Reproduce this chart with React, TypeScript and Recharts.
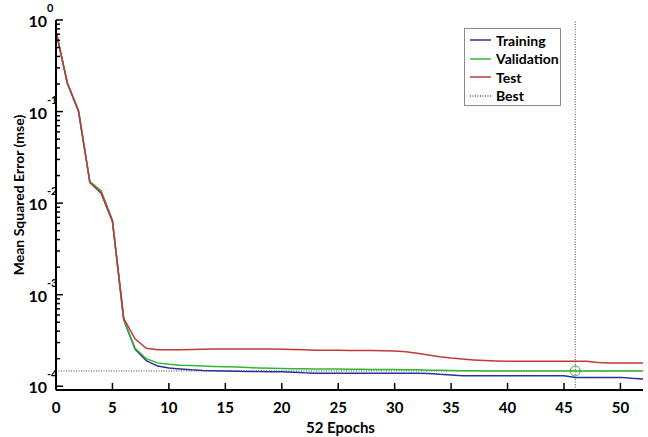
import React from "react";
import {
  LineChart,
  Line,
  XAxis,
  YAxis,
  ReferenceLine,
  ReferenceDot,
} from "recharts";

const epochs: number[] = Array.from({ length: 53 }, (_, i) => i);

const training: number[] = [
  0.75, 0.205, 0.1, 0.0168, 0.0128, 0.0063, 0.00053, 0.000255, 0.00019, 0.000166,
  0.000158, 0.000154, 0.000151, 0.000149, 0.000148, 0.000147, 0.000146, 0.000145, 0.000145, 0.000144,
  0.000144, 0.000142, 0.00014, 0.000139, 0.000139, 0.000139, 0.000139, 0.000139, 0.000139, 0.000139,
  0.000139, 0.000139, 0.000139, 0.000138, 0.000135, 0.000133, 0.00013, 0.00013, 0.00013, 0.00013,
  0.00013, 0.00013, 0.00013, 0.00013, 0.00013, 0.00013, 0.000125, 0.000125, 0.000125, 0.000125,
  0.000125, 0.000122, 0.00012,
];

const validation: number[] = [
  0.755, 0.206, 0.101, 0.0172, 0.0137, 0.0065, 0.00054, 0.00026, 0.0002, 0.00018,
  0.000174, 0.00017, 0.000168, 0.000166, 0.000164, 0.000163, 0.000162, 0.00016, 0.000158, 0.000157,
  0.000156, 0.000155, 0.000155, 0.000154, 0.000154, 0.000154, 0.000153, 0.000153, 0.000152, 0.000152,
  0.000152, 0.000151, 0.000151, 0.00015, 0.00015, 0.000149, 0.000148, 0.000148, 0.000147, 0.000147,
  0.000147, 0.000147, 0.000147, 0.000147, 0.000147, 0.000147, 0.000147, 0.000147, 0.000147, 0.000147,
  0.000147, 0.000147, 0.000147,
];

const test: number[] = [
  0.755, 0.206, 0.101, 0.0168, 0.013, 0.0064, 0.00055, 0.00033, 0.00026, 0.000251,
  0.00025, 0.00025, 0.000252, 0.000254, 0.000255, 0.000255, 0.000255, 0.000255, 0.000255, 0.000255,
  0.000254, 0.000252, 0.00025, 0.000248, 0.000247, 0.000247, 0.000246, 0.000245, 0.000245, 0.000244,
  0.000242, 0.000238, 0.000229, 0.00022, 0.00021, 0.000203, 0.000198, 0.000194, 0.000191, 0.000189,
  0.000187, 0.000187, 0.000187, 0.000187, 0.000187, 0.000187, 0.000187, 0.000187, 0.000182, 0.00018,
  0.000179, 0.000179, 0.000179,
];

const bestEpoch = 46;
const bestValue = 0.000147;

const xTicks: number[] = [0, 5, 10, 15, 20, 25, 30, 35, 40, 45, 50];
const yTicks: number[] = (() => {
  const t: number[] = [];
  for (let e = -4; e < 0; e++) {
    for (let m = 1; m <= 9; m++) t.push(m * Math.pow(10, e));
  }
  t.push(1);
  return t;
})();

const data = epochs.map((ep, i) => ({
  epoch: ep,
  training: training[i],
  validation: validation[i],
  test: test[i],
}));

const FONT = "Lato, 'Open Sans', sans-serif";

const YTick = (props: any) => {
  const { x, y, payload } = props;
  const v = payload.value;
  const lg = Math.log10(v);
  const major = Math.abs(lg - Math.round(lg)) < 1e-6;
  const exp = Math.round(lg);
  return (
    <g>
      <line x1={x} y1={y} x2={x + (major ? 7 : 4)} y2={y} stroke="#000" strokeWidth={1.5} />
      {major && (
        <g fontFamily={FONT} fontWeight={700} fill="#000">
          <text x={x - 9} y={y + 7} textAnchor="end" fontSize={16}>
            10
          </text>
          <text x={x - 9} y={y - 8} textAnchor="start" fontSize={11}>
            {String(exp)}
          </text>
        </g>
      )}
    </g>
  );
};

const XTick = (props: any) => {
  const { x, y, payload } = props;
  return (
    <g>
      <line x1={x} y1={y} x2={x} y2={y - 7} stroke="#000" strokeWidth={1.5} />
      <text
        x={x}
        y={y + 23}
        textAnchor="middle"
        fontFamily={FONT}
        fontWeight={700}
        fontSize={15}
        fill="#000"
      >
        {payload.value}
      </text>
    </g>
  );
};

const legendItems = [
  { name: "Training", color: "#2e2e9e", dash: undefined },
  { name: "Validation", color: "#33b533", dash: undefined },
  { name: "Test", color: "#c03a3a", dash: undefined },
  { name: "Best", color: "#000", dash: "1 1.5" },
];

const LegendBox = () => (
  <div
    style={{
      position: "absolute",
      left: 464,
      top: 28,
      border: "1px solid #8a8a8a",
      background: "#fff",
      width: 97,
      height: 78,
      boxSizing: "border-box",
      padding: "2px 0 0 5px",
      fontFamily: FONT,
      fontWeight: 700,
      fontSize: 14,
      color: "#000",
    }}
  >
    {legendItems.map((it) => (
      <div key={it.name} style={{ display: "flex", alignItems: "center", height: 18.5 }}>
        <svg width={22} height={6} style={{ marginRight: 4 }}>
          <line
            x1={0}
            y1={3}
            x2={21}
            y2={3}
            stroke={it.color}
            strokeWidth={it.dash ? 1 : 1.5}
            strokeDasharray={it.dash}
          />
        </svg>
        <span>{it.name}</span>
      </div>
    ))}
  </div>
);

export default function App() {
  return (
    <div style={{ position: "absolute", left: 0, top: 0, width: 648, height: 437, background: "#fff" }}>
      <LineChart
        width={648}
        height={437}
        data={data}
        margin={{ top: 20, right: 5, bottom: 0, left: 0 }}
      >
        <XAxis
          dataKey="epoch"
          type="number"
          domain={[0, 52]}
          ticks={xTicks}
          tick={<XTick />}
          tickLine={false}
          tickSize={0}
          tickMargin={0}
          axisLine={{ stroke: "#000", strokeWidth: 2 }}
          height={47}
          interval={0}
          label={{
            value: "52 Epochs",
            position: "insideBottom",
            offset: 4,
            dx: -9,
            fontFamily: FONT,
            fontWeight: 700,
            fontSize: 15,
            fill: "#000",
          }}
        />
        <YAxis
          scale="log"
          domain={[9.1e-5, 1]}
          allowDataOverflow
          ticks={yTicks}
          tick={<YTick />}
          tickLine={false}
          tickSize={0}
          tickMargin={0}
          axisLine={{ stroke: "#000", strokeWidth: 2 }}
          width={56}
          interval={0}
          label={{
            value: "Mean Squared Error (mse)",
            angle: -90,
            position: "insideLeft",
            dx: 14,
            dy: -10,
            fontFamily: FONT,
            fontWeight: 700,
            fontSize: 14,
            fill: "#000",
            style: { textAnchor: "middle" },
          }}
        />
        <ReferenceLine x={bestEpoch} stroke="#444" strokeDasharray="1 1.5" strokeWidth={1} />
        <ReferenceLine y={bestValue} stroke="#444" strokeDasharray="1 1.5" strokeWidth={1} />
        <Line
          type="linear"
          dataKey="training"
          stroke="#2e2e9e"
          strokeWidth={1.5}
          dot={false}
          isAnimationActive={false}
        />
        <Line
          type="linear"
          dataKey="validation"
          stroke="#33b533"
          strokeWidth={1.5}
          dot={false}
          isAnimationActive={false}
        />
        <Line
          type="linear"
          dataKey="test"
          stroke="#c03a3a"
          strokeWidth={1.5}
          dot={false}
          isAnimationActive={false}
        />
        <ReferenceDot
          x={bestEpoch}
          y={bestValue}
          r={5}
          fill="none"
          stroke="#33b533"
          strokeWidth={1}
        />
      </LineChart>
      <LegendBox />
    </div>
  );
}
